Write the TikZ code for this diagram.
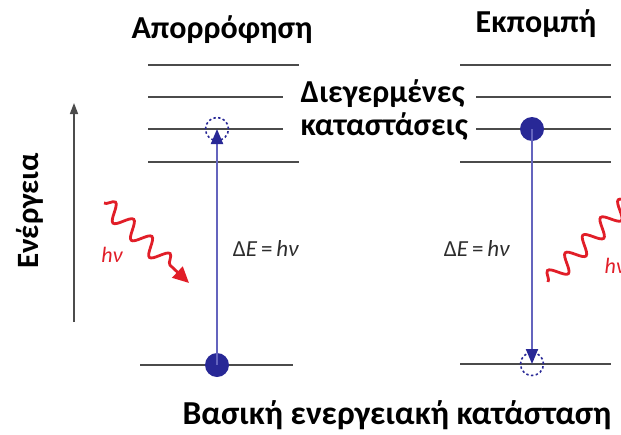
\documentclass[tikz,border=0pt]{standalone}
\usepackage{fontspec}
\setmainfont{Carlito}
\usetikzlibrary{arrows.meta,decorations.pathmorphing}
\definecolor{lvl}{RGB}{75,75,75}
\definecolor{navy}{RGB}{40,40,150}
\definecolor{trline}{RGB}{100,100,190}
\definecolor{phred}{RGB}{225,30,40}
\definecolor{eqgray}{RGB}{45,45,45}
\begin{document}
\begin{tikzpicture}[x=1pt,y=-1pt,
  level/.style={draw=lvl,line width=2.4pt},
  title/.style={font=\fontsize{32}{34}\selectfont\bfseries,anchor=base},
  lbl/.style={font=\fontsize{32}{34}\selectfont\bfseries,anchor=base west},
  eq/.style={font=\fontsize{23}{25}\selectfont,text=eqgray},
  hv/.style={font=\fontsize{22}{24}\selectfont\itshape,text=phred},
  fulldot/.style={circle,fill=navy,minimum size=24pt,inner sep=0pt},
  emptydot/.style={circle,draw=navy,line width=1.6pt,dash pattern=on 2.4pt off 2.4pt,minimum size=23pt,inner sep=0pt},
  trans/.style={draw=trline,line width=2pt,-{Triangle[length=15pt,width=12pt,fill=navy,color=navy]}},
  photon/.style={draw=phred,line width=2.8pt,decorate,
    decoration={snake,amplitude=8.5pt,segment length=25pt,post length=14pt},
    -{Triangle[length=16pt,width=15pt]}},
  axis/.style={draw=black!70,line width=1.6pt,-{Triangle[length=11pt,width=8pt]}}]
\useasboundingbox (0,0) rectangle (621,434);
\clip (0,0) rectangle (621,434);
% titles
\node[title] (tabs) at (222,38) {Απορρόφηση};
\node[title] (tem) at (536,32) {Εκπομπή};
\node[lbl] (exc1) at (297,102) {Διεγερμένες};
\node[lbl] (exc2) at (297,135) {καταστάσεις};
\node[title,font=\fontsize{33.5}{36}\selectfont\bfseries] (ground) at (397,424) {Βασική ενεργειακή κατάσταση};
% energy axis
\coordinate (ax0) at (74,322);
\coordinate (ax1) at (74,103);
\draw[axis] (ax0) -- (ax1);
\node[font=\fontsize{31}{33}\selectfont\bfseries,rotate=90,anchor=base] (energy) at (38,211) {Ενέργεια};
% left levels
\coordinate (la1) at (148,65);  \coordinate (lb1) at (299,65);
\coordinate (la2) at (148,97);  \coordinate (lb2) at (283,97);
\coordinate (la3) at (148,129); \coordinate (lb3) at (283,129);
\coordinate (la4) at (148,162); \coordinate (lb4) at (299,162);
\coordinate (la0) at (140,365); \coordinate (lb0) at (293,365);
\foreach \i in {0,...,4} {\draw[level] (la\i) -- (lb\i);}
% right levels
\coordinate (ra1) at (460,65);  \coordinate (rb1) at (611,65);
\coordinate (ra2) at (476,97);  \coordinate (rb2) at (611,97);
\coordinate (ra3) at (476,129); \coordinate (rb3) at (611,129);
\coordinate (ra4) at (460,162); \coordinate (rb4) at (611,162);
\coordinate (ra0) at (460,364); \coordinate (rb0) at (611,364);
\foreach \i in {0,...,4} {\draw[level] (ra\i) -- (rb\i);}
% absorption
\node[emptydot] (labsup) at (217,129) {};
\node[fulldot] (labsdn) at (217,365) {};
\draw[trans] (labsdn.center) -- (labsup.center);
\node[eq] (eql) at (266,249) {Δ\textit{E}\,=\,\textit{hν}};
% emission
\node[fulldot] (remup) at (532,129) {};
\node[emptydot] (remdn) at (532,364) {};
\draw[trans] (remup.center) -- (remdn.center);
\node[eq] (eqr) at (477,249) {Δ\textit{E}\,=\,\textit{hν}};
% photons
\coordinate (p1a) at (104,203);
\coordinate (p1b) at (189,283);
\draw[photon] (p1a) -- (p1b);
\node[hv] (hv1) at (112,255) {hν};
\coordinate (p2a) at (548,282);
\coordinate (p2b) at (660,170);
\draw[photon] (p2a) -- (p2b);
\node[hv,anchor=west] (hv2) at (601,266) {hν};
\end{tikzpicture}
\end{document}
